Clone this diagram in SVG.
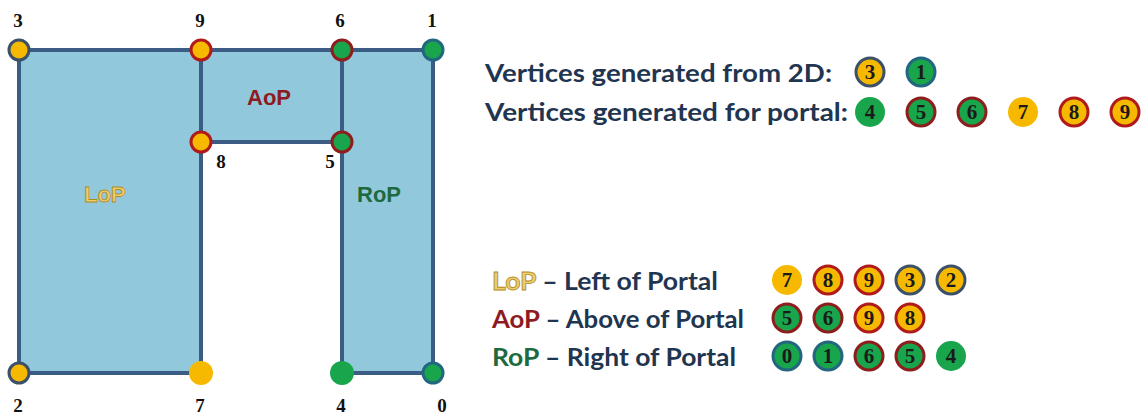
<svg xmlns="http://www.w3.org/2000/svg" width="1147" height="416" viewBox="0 0 1147 416">
<style>
.edge{stroke:#3b5d85;stroke-width:4;fill:none;stroke-linecap:square}
.region{fill:#92c8dc;stroke:none}
.num{font-family:"Liberation Serif",serif;font-weight:bold;font-size:19px;fill:#111;text-anchor:middle}
.cnum{font-family:"Liberation Serif",serif;font-weight:bold;font-size:21px;fill:#1a1a1a;text-anchor:middle}
.yS{fill:#f7b900;stroke:#3c5168;stroke-width:3}
.yR{fill:#f7b900;stroke:#b01a1a;stroke-width:3}
.gT{fill:#18a54c;stroke:#22677f;stroke-width:3}
.gR{fill:#18a54c;stroke:#8e1e1e;stroke-width:3}
.y0{fill:#f7b900;stroke:none}
.g0{fill:#18a54c;stroke:none}
.leg{font-family:Lato,"Liberation Sans",sans-serif;font-weight:bold;font-size:25px;fill:#1f3550}
.lop{fill:#eccd72;stroke:#b48a18;stroke-width:0.8}
.aop{fill:#8e1b22}
.rop{fill:#1e6a40}
.lbl{font-family:"Liberation Sans",sans-serif;font-weight:bold;font-size:22px;text-anchor:middle}
</style>

<g id="LoP">
<rect class="region" x="19" y="50" width="182" height="323"/>
<text class="lbl lop" x="105" y="202">LoP</text>
</g>
<g id="AoP">
<rect class="region" x="201" y="50" width="141" height="92"/>
<text class="lbl aop" x="269" y="105">AoP</text>
</g>
<g id="RoP">
<rect class="region" x="342" y="50" width="91" height="323"/>
<text class="lbl rop" x="379" y="202">RoP</text>
</g>

<g id="connectors">
<polyline class="edge" points="19,50 433,50 433,373 342,373 342,50"/>
<polyline class="edge" points="201,373 19,373 19,50"/>
<line class="edge" x1="201" y1="50" x2="201" y2="373"/>
<line class="edge" x1="201" y1="142" x2="342" y2="142"/>
</g>

<g id="v3"><circle class="yS" cx="19" cy="50" r="10"/><text class="num" x="18" y="27">3</text></g>
<g id="v9"><circle class="yR" cx="201" cy="50" r="10"/><text class="num" x="200" y="27">9</text></g>
<g id="v6"><circle class="gR" cx="342" cy="50" r="10"/><text class="num" x="340" y="27">6</text></g>
<g id="v1"><circle class="gT" cx="433" cy="50" r="10"/><text class="num" x="432" y="27">1</text></g>
<g id="v8"><circle class="yR" cx="201" cy="142" r="10"/><text class="num" x="221" y="168">8</text></g>
<g id="v5"><circle class="gR" cx="342" cy="142" r="10"/><text class="num" x="330" y="168">5</text></g>
<g id="v2"><circle class="yS" cx="19" cy="373" r="10"/><text class="num" x="18" y="412">2</text></g>
<g id="v7"><circle class="y0" cx="201" cy="373" r="12"/><text class="num" x="200" y="412">7</text></g>
<g id="v4"><circle class="g0" cx="342" cy="373" r="12"/><text class="num" x="341" y="412">4</text></g>
<g id="v0"><circle class="gT" cx="433" cy="373" r="10"/><text class="num" x="442" y="412">0</text></g>

<g id="legend-top">
<text class="leg" x="485" y="82" textLength="347" lengthAdjust="spacingAndGlyphs">Vertices generated from 2D:</text>
<text class="leg" x="485" y="121" textLength="363" lengthAdjust="spacingAndGlyphs">Vertices generated for portal:</text>
<circle class="yS" cx="870" cy="72" r="14"/><text class="cnum" x="870" y="79">3</text>
<circle class="gT" cx="921" cy="72" r="14"/><text class="cnum" x="921" y="79">1</text>
<circle class="g0" cx="870" cy="112" r="15"/><text class="cnum" x="870" y="119">4</text>
<circle class="gR" cx="921" cy="112" r="14"/><text class="cnum" x="921" y="119">5</text>
<circle class="gR" cx="972" cy="112" r="14"/><text class="cnum" x="972" y="119">6</text>
<circle class="y0" cx="1023" cy="112" r="15"/><text class="cnum" x="1023" y="119">7</text>
<circle class="yR" cx="1074" cy="112" r="14"/><text class="cnum" x="1074" y="119">8</text>
<circle class="yR" cx="1125" cy="112" r="14"/><text class="cnum" x="1125" y="119">9</text>
</g>

<g id="legend-bottom">
<text class="leg" x="492" y="290" textLength="226" lengthAdjust="spacingAndGlyphs"><tspan class="lop">LoP</tspan> – Left of Portal</text>
<text class="leg" x="492" y="328" textLength="252" lengthAdjust="spacingAndGlyphs"><tspan class="aop">AoP</tspan> – Above of Portal</text>
<text class="leg" x="492" y="366" textLength="244" lengthAdjust="spacingAndGlyphs"><tspan class="rop">RoP</tspan> – Right of Portal</text>
<circle class="y0" cx="787" cy="280" r="15"/><text class="cnum" x="787" y="287">7</text>
<circle class="yR" cx="828" cy="280" r="14"/><text class="cnum" x="828" y="287">8</text>
<circle class="yR" cx="869" cy="280" r="14"/><text class="cnum" x="869" y="287">9</text>
<circle class="yS" cx="910" cy="280" r="14"/><text class="cnum" x="910" y="287">3</text>
<circle class="yS" cx="951" cy="280" r="14"/><text class="cnum" x="951" y="287">2</text>
<circle class="gR" cx="787" cy="318" r="14"/><text class="cnum" x="787" y="325">5</text>
<circle class="gR" cx="828" cy="318" r="14"/><text class="cnum" x="828" y="325">6</text>
<circle class="yR" cx="869" cy="318" r="14"/><text class="cnum" x="869" y="325">9</text>
<circle class="yR" cx="910" cy="318" r="14"/><text class="cnum" x="910" y="325">8</text>
<circle class="gT" cx="787" cy="356" r="14"/><text class="cnum" x="787" y="363">0</text>
<circle class="gT" cx="828" cy="356" r="14"/><text class="cnum" x="828" y="363">1</text>
<circle class="gR" cx="869" cy="356" r="14"/><text class="cnum" x="869" y="363">6</text>
<circle class="gR" cx="910" cy="356" r="14"/><text class="cnum" x="910" y="363">5</text>
<circle class="g0" cx="951" cy="356" r="15"/><text class="cnum" x="951" y="363">4</text>
</g>
</svg>
